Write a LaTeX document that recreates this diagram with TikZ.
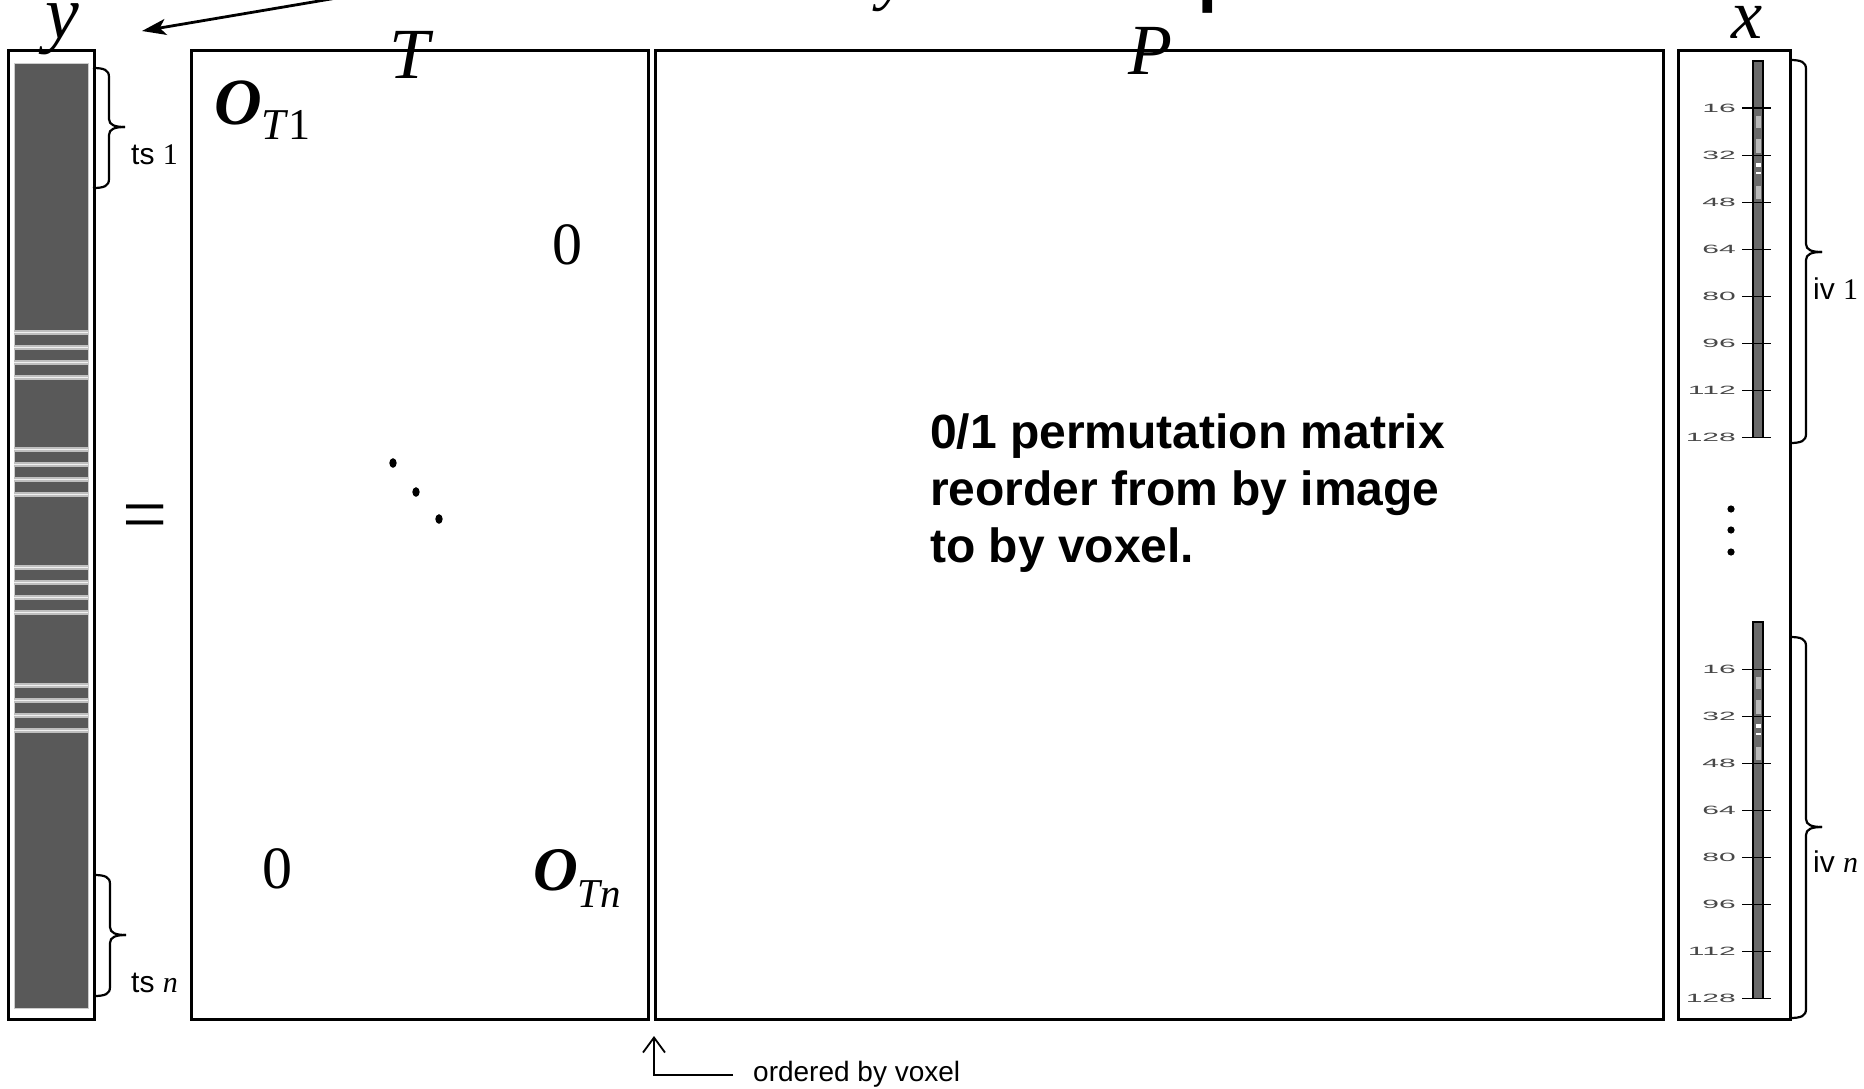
\documentclass[tikz,border=0pt]{standalone}
\usepackage{fontspec}
\setmainfont{Liberation Serif}
\newfontfamily\arialf{Liberation Sans}
\usepackage{graphicx}
\usetikzlibrary{arrows.meta}
\definecolor{ycolbar}{RGB}{89,89,89}
\definecolor{xcolbar}{RGB}{106,106,106}
\definecolor{ticklab}{RGB}{72,72,72}
\newcommand{\fsz}[1]{\fontsize{#1}{#1}\selectfont}
\newcommand{\mybrace}[4]{% x, top, tip, bottom
  \draw[bracepath] (#1,#2) .. controls ({#1+11},#2) and ({#1+16},{#2+2}) .. ({#1+16},{#2+9})
     -- ({#1+16},{#3-8}) .. controls ({#1+16},{#3-2}) and ({#1+22},#3) .. ({#1+32},#3);
  \draw[bracepath] ({#1+32},#3) .. controls ({#1+22},#3) and ({#1+16},{#3+2}) .. ({#1+16},{#3+8})
     -- ({#1+16},{#4-9}) .. controls ({#1+16},{#4-2}) and ({#1+11},#4) .. (#1,#4);
}
\begin{document}
\begin{tikzpicture}[x=1pt,y=-1pt,
  frame/.style={draw=black,line width=3.2pt,inner sep=0pt,anchor=north west},
  lbl/.style={inner sep=0pt,anchor=base west},
  bracepath/.style={draw=black,line width=2.2pt},
  ticklbl/.style={inner sep=0pt,anchor=east,text=ticklab},
  dotc/.style={fill=black}]
\useasboundingbox (0,0) rectangle (1864,1088);
\clip (0,0) rectangle (1864,1088);

% ---------- title fragments (cut off at top) ----------
\node[lbl] (titley) at (878,-3) {\fsz{66}\textit{y}};
\node[lbl] (titlep) at (1195,-10) {\arialf\fsz{110}p};
\coordinate (arrowtail) at (372,-8);
\coordinate (ytip) at (142,31);
\draw[line width=2.8pt,-{Stealth[length=24pt,width=16pt,inset=6pt]}] (arrowtail) -- (ytip);

% ---------- y column ----------
\node[frame,minimum width=86pt,minimum height=969pt] (ybox) at (7,49) {};
\fill[fill=ycolbar] (14,63) rectangle (88,1008);
\draw[gray!40,line width=0.8pt] (14,63) rectangle (88,1008);
\foreach \g in {330,447,565,683}{
  \foreach \o in {0,15,30,45}{
    \fill[gray!50] (14,{\g+\o}) rectangle (88,{\g+\o+5});
    \fill[gray!12] (14,{\g+\o+1.5}) rectangle (88,{\g+\o+3});
  }
}
\node[lbl] (ylab) at (45,38) {\fsz{76}\textit{y}};

\mybrace{93}{68}{127}{188}
\mybrace{94}{875}{935}{996}
\node[lbl] (ts1) at (131,164) {\arialf\fsz{30}ts \rmfamily 1};
\node[lbl] (tsn) at (131,992) {\arialf\fsz{30}ts \rmfamily\itshape n};

\node[inner sep=0pt] (eq) at (145,523) {\fsz{80}=};

% ---------- T matrix ----------
\node[frame,minimum width=457pt,minimum height=969pt] (Tbox) at (190,49) {};
\node[lbl] (Tlab) at (389,78) {\fsz{72}\textit{T}};
\node[lbl] (OT1) at (214,124) {\fsz{66}\bfseries\itshape O\raisebox{-15pt}{\mdseries\upshape\fsz{44}\textit{T}1}};
\node[lbl] (zeroA) at (552,264) {\fsz{60}0};
\node[lbl] (zeroB) at (262,888) {\fsz{60}0};
\node[lbl] (OTn) at (533,890) {\fsz{62}\bfseries\itshape O\raisebox{-17pt}{\mdseries\fsz{41}\textit{Tn}}};
\fill[dotc] (393,463) ellipse [x radius=3.7, y radius=4.8];
\fill[dotc] (416,492) ellipse [x radius=3.7, y radius=4.8];
\fill[dotc] (439,519) ellipse [x radius=3.7, y radius=4.8];

% ---------- P matrix ----------
\node[frame,minimum width=1008pt,minimum height=969pt] (Pbox) at (654,49) {};
\node[lbl] (Plab) at (1128,74) {\fsz{72}\textit{P}};
\node[lbl,font=\arialf\bfseries\fsz{48}] (ptext1) at (930,448) {0/1 permutation matrix};
\node[lbl,font=\arialf\bfseries\fsz{48}] (ptext2) at (930,505) {reorder from by image};
\node[lbl,font=\arialf\bfseries\fsz{48}] (ptext3) at (930,562) {to by voxel.};

% ---------- x column ----------
\node[frame,minimum width=112pt,minimum height=969pt] (xbox) at (1677,49) {};
\node[lbl] (xlab) at (1731,38) {\fsz{70}\textit{x}};
\foreach \z in {61,622}{
  \fill[xcolbar] (1753,\z) rectangle (1763,{\z+376.3});
  \fill[gray!55] (1755.5,{\z+18.7*2.94}) rectangle (1760.5,{\z+22.8*2.94});
  \fill[gray!55] (1755.5,{\z+26.5*2.94}) rectangle (1760.5,{\z+31.3*2.94});
  \fill[white] (1755.5,{\z+34.7*2.94}) rectangle (1760.5,{\z+35.9*2.94});
  \fill[white] (1755.5,{\z+37.6*2.94}) rectangle (1760.5,{\z+38.6*2.94});
  \fill[gray!55] (1755.5,{\z+42.5*2.94}) rectangle (1760.5,{\z+47*2.94});
  \draw[black,line width=1.2pt] (1753,\z) rectangle (1763,{\z+376.3});
  \foreach \k [evaluate=\k as \lab using int(16*\k)] in {1,...,8}{
    \draw[line width=1.1pt] (1742,{\z+\k*47.04}) -- (1771,{\z+\k*47.04});
    \node[ticklbl] (tick-\z-\k) at (1736,{\z+\k*47.04}) {\scalebox{2.5}[1]{\arialf\fsz{12}\lab}};
  }
}
\fill[dotc] (1731,509) circle (3.6);
\fill[dotc] (1731,530) circle (3.6);
\fill[dotc] (1731,552) circle (3.6);
\mybrace{1790}{60}{252}{443}
\mybrace{1790}{637}{827}{1018}
\node[lbl] (iv1) at (1813,299) {\arialf\fsz{30}iv \rmfamily 1};
\node[lbl] (ivn) at (1813,872) {\arialf\fsz{30}iv \rmfamily\itshape n};

% ---------- bottom note ----------
\node[lbl,font=\arialf\fsz{28}] (ordered) at (753,1081) {ordered by voxel};
\coordinate (lineend) at (733,1075);
\coordinate (corner) at (654,1075);
\coordinate (gap) at (654,1036);
\draw[line width=1.8pt,-{Straight Barb[length=15pt,width=22pt]}] (lineend) -- (corner) -- (gap);
\end{tikzpicture}
\end{document}
